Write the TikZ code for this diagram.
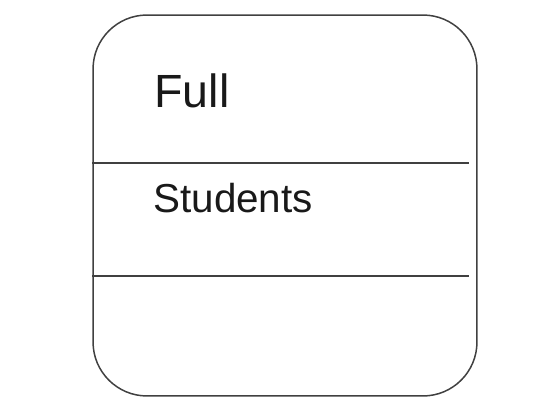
\documentclass[tikz,border=0pt]{standalone}
\usepackage{fontspec}
\setmainfont{Liberation Sans}
\usetikzlibrary{positioning}

\begin{document}
\begin{tikzpicture}[
  x=0.02cm, y=-0.02cm,
  statebox/.style={
    draw=black!75,
    line width=0.85pt,
    rounded corners=1.08cm,
    minimum width=7.68cm,
    minimum height=7.62cm,
    inner sep=0pt
  },
  txt/.style={anchor=base west, inner sep=0pt, text=black!90},
  divider/.style={draw=black!75, line width=0.85pt}
]
\useasboundingbox (0,0) rectangle (546,418);

\node[statebox] (state) at (285,205.5) {};
\node[txt, font=\fontsize{26.5}{30}\selectfont] (full) at (154,108) {Full};
\node[txt, font=\fontsize{23}{27}\selectfont] (students) at (153,213) {Students};

% compartment lines
\coordinate (d1) at (469,163);
\coordinate (d2) at (469,276);
\draw[divider] (state.west |- d1) -- (d1);
\draw[divider] (state.west |- d2) -- (d2);
\end{tikzpicture}
\end{document}
